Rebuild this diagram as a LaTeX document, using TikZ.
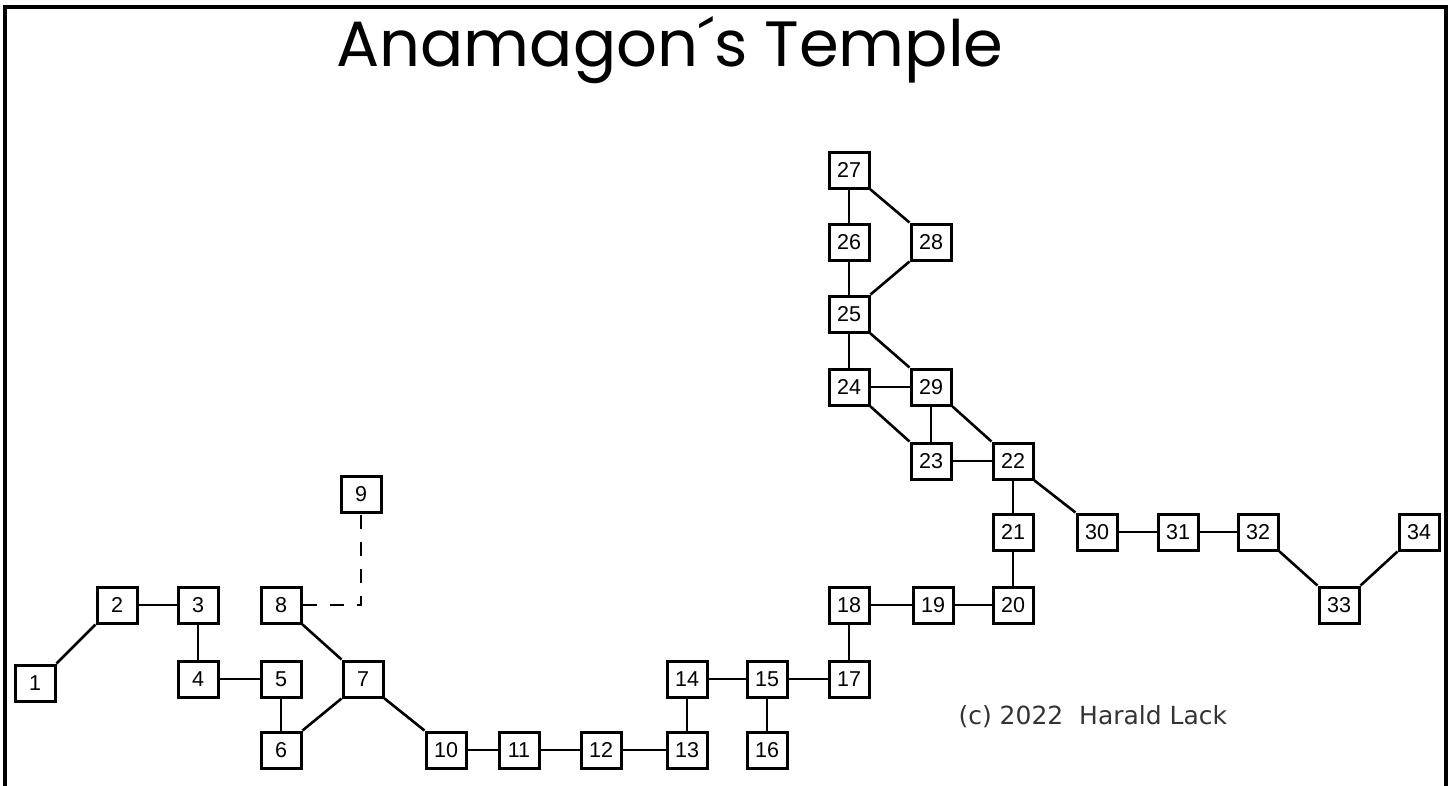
\documentclass[tikz,border=0pt]{standalone}
\usepackage{fontspec}
\setmainfont{Liberation Sans}
\newfontfamily\titlefont{Poppins}
\newfontfamily\notefont{DejaVu Sans}
\usetikzlibrary{positioning}

\begin{document}
\begin{tikzpicture}[x=1pt, y=-1pt, font=\fontsize{21.5}{25}\selectfont,
  room/.style={draw, line width=3pt, minimum width=40pt, minimum height=36pt, inner sep=0pt, fill=white},
  link/.style={line width=2.6pt},
  secret/.style={line width=2.6pt, dash pattern=on 14pt off 13pt}]
\useasboundingbox (0,0) rectangle (1451,785);
\draw[line width=3.5pt] (5,790) -- (5,7) -- (1446,7) -- (1446,790);
\node[font=\titlefont\fontsize{64}{70}\selectfont] (title) at (670,50) {Anamagon´s Temple};
% rooms
\node[room] (r1) at (35,683) {1};
\node[room] (r2) at (117,605) {2};
\node[room] (r3) at (198,605) {3};
\node[room] (r4) at (198,679) {4};
\node[room] (r5) at (281,679) {5};
\node[room] (r6) at (281,750) {6};
\node[room] (r7) at (363,679) {7};
\node[room] (r8) at (281,605) {8};
\node[room] (r9) at (361,494) {9};
\node[room] (r10) at (446,750) {10};
\node[room] (r11) at (519,750) {11};
\node[room] (r12) at (601,750) {12};
\node[room] (r13) at (687,750) {13};
\node[room] (r14) at (687,679) {14};
\node[room] (r15) at (767,679) {15};
\node[room] (r16) at (767,750) {16};
\node[room] (r17) at (849,679) {17};
\node[room] (r18) at (849,605) {18};
\node[room] (r19) at (933,605) {19};
\node[room] (r20) at (1013,605) {20};
\node[room] (r21) at (1013,532) {21};
\node[room] (r22) at (1013,461) {22};
\node[room] (r23) at (931,461) {23};
\node[room] (r24) at (849,387) {24};
\node[room] (r25) at (849,314) {25};
\node[room] (r26) at (849,242) {26};
\node[room] (r27) at (849,170) {27};
\node[room] (r28) at (931,242) {28};
\node[room] (r29) at (931,387) {29};
\node[room] (r30) at (1097,532) {30};
\node[room] (r31) at (1178,532) {31};
\node[room] (r32) at (1258,532) {32};
\node[room] (r33) at (1339,605) {33};
\node[room] (r34) at (1419,532) {34};
\node[font=\notefont\fontsize{25}{30}\selectfont, anchor=west, text=black!80] (credit) at (955,717) {(c) 2022\ \ Harald Lack};
% passages
\foreach \a/\b in {r2/r3, r3/r4, r4/r5, r5/r6, r10/r11, r11/r12, r12/r13, r13/r14, r14/r15, r15/r16, r15/r17,
  r17/r18, r18/r19, r19/r20, r20/r21, r21/r22, r22/r23, r23/r29, r24/r29, r24/r25, r25/r26, r26/r27,
  r30/r31, r31/r32}
  \draw[link] (\a) -- (\b);
\draw[link] (r1.north east) -- (r2.south west);
\draw[link] (r6.north east) -- (r7.south west);
\draw[link] (r8.south east) -- (r7.north west);
\draw[link] (r7.south east) -- (r10.north west);
\draw[link] (r24.south east) -- (r23.north west);
\draw[link] (r25.south east) -- (r29.north west);
\draw[link] (r29.south east) -- (r22.north west);
\draw[link] (r22.south east) -- (r30.north west);
\draw[link] (r27.south east) -- (r28.north west);
\draw[link] (r28.south west) -- (r25.north east);
\draw[link] (r32.south east) -- (r33.north west);
\draw[link] (r33.north east) -- (r34.south west);
\draw[secret] (r8.east) -| (r9.south);
\end{tikzpicture}
\end{document}
